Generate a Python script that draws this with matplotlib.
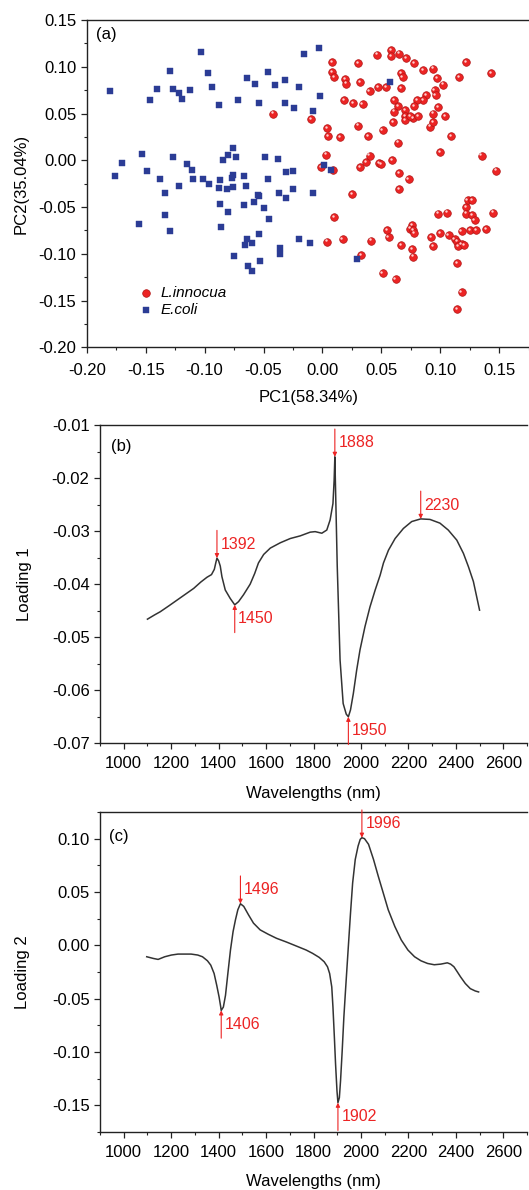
import matplotlib
matplotlib.use("Agg")
import matplotlib.pyplot as plt
from matplotlib.ticker import MultipleLocator, FormatStrFormatter
from matplotlib.transforms import ScaledTranslation

plt.rcParams['font.family'] = ['Liberation Sans', 'DejaVu Sans']

# ---- (a) PCA scores ----
lin_pc1 = [-0.042, -0.010, 0.008, 0.008, 0.010, 0.019, 0.020, 0.030, 0.032, 0.018,
           0.026, 0.034, 0.040, 0.047, 0.046, 0.058, 0.058, 0.065, 0.071, 0.078,
           0.085, 0.094, 0.097, 0.102, 0.095, 0.096, 0.088, 0.085, 0.080, 0.078,
           0.077, 0.081, 0.091, 0.094, 0.098, 0.094, 0.104, 0.067, 0.068, 0.067,
           0.054, 0.061, 0.064, 0.061, 0.070, 0.070, 0.060, 0.070, 0.074, 0.116,
           0.122, 0.143, 0.109, 0.100, 0.135, 0.147, 0.004, 0.005, 0.015, 0.030,
           0.039, 0.051, 0.064, 0.003, -0.001, 0.009, 0.032, 0.037, 0.040, 0.048,
           0.050, 0.059, 0.065, 0.073, 0.065, 0.025,
           0.010, 0.004, 0.017, 0.033, 0.041, 0.051, 0.062, 0.055, 0.056, 0.067,
           0.076, 0.074, 0.077, 0.078, 0.076, 0.077, 0.092, 0.094, 0.098, 0.106,
           0.100, 0.107, 0.112, 0.114, 0.118, 0.115, 0.120, 0.118, 0.122, 0.123,
           0.127, 0.122, 0.127, 0.129, 0.125, 0.130, 0.139, 0.145, 0.114, 0.118,
           0.114]
lin_pc2 = [0.050, 0.044, 0.105, 0.094, 0.089, 0.087, 0.082, 0.104, 0.084, 0.064,
           0.061, 0.060, 0.074, 0.078, 0.113, 0.118, 0.111, 0.114, 0.109, 0.104,
           0.096, 0.098, 0.088, 0.081, 0.075, 0.070, 0.070, 0.064, 0.064, 0.058,
           0.045, 0.047, 0.036, 0.041, 0.057, 0.050, 0.047, 0.093, 0.089, 0.077,
           0.078, 0.064, 0.058, 0.052, 0.054, 0.047, 0.041, 0.043, 0.047, 0.089,
           0.105, 0.093, 0.026, 0.009, 0.005, -0.011, 0.034, 0.026, 0.025, 0.037,
           0.026, 0.032, 0.019, 0.006, -0.007, -0.010, -0.007, -0.002, 0.005, -0.003,
           -0.004, 0.000, -0.014, -0.020, -0.031, -0.036,
           -0.061, -0.087, -0.084, -0.101, -0.086, -0.121, -0.127, -0.075, -0.082, -0.091,
           -0.069, -0.073, -0.075, -0.078, -0.095, -0.103, -0.082, -0.092, -0.057, -0.056,
           -0.078, -0.080, -0.084, -0.087, -0.090, -0.092, -0.091, -0.076, -0.050, -0.043,
           -0.043, -0.057, -0.059, -0.064, -0.075, -0.075, -0.074, -0.056, -0.110, -0.141,
           -0.159]

eco_pc1 = [-0.180, -0.146, -0.140, -0.129, -0.127, -0.122, -0.119, -0.112, -0.103, -0.097,
           -0.094, -0.088, -0.072, -0.064, -0.057, -0.054, -0.046, -0.040, -0.032, -0.032,
           -0.024, -0.020, -0.016, -0.008, -0.003, -0.002, 0.057,
           -0.176, -0.170, -0.153, -0.149, -0.138, -0.134, -0.127, -0.122, -0.115, -0.111,
           -0.110, -0.101, -0.096, -0.088, -0.087, -0.084, -0.080, -0.076, -0.073, -0.077,
           -0.076, -0.067, -0.065, -0.055, -0.049, -0.046, -0.038, -0.037, -0.031, -0.025,
           -0.025, -0.008, 0.001, 0.007, -0.081, -0.076, -0.031,
           -0.156, -0.134, -0.129, -0.087, -0.080, -0.086, -0.067, -0.058, -0.054, -0.050,
           -0.045, -0.075, -0.064, -0.066, -0.060, -0.054, -0.053, -0.063, -0.060, -0.036,
           -0.036, -0.020, -0.011, 0.029]
eco_pc2 = [0.074, 0.064, 0.076, 0.095, 0.076, 0.072, 0.066, 0.075, 0.116, 0.093,
           0.078, 0.059, 0.064, 0.088, 0.082, 0.061, 0.094, 0.081, 0.086, 0.061,
           0.056, 0.078, 0.114, 0.053, 0.120, 0.069, 0.084,
           -0.017, -0.003, 0.007, -0.011, -0.020, -0.035, 0.003, -0.027, -0.004, -0.010,
           -0.020, -0.020, -0.025, -0.030, -0.021, 0.000, 0.006, 0.013, 0.004, -0.019,
           -0.016, -0.017, -0.028, -0.037, 0.004, -0.020, 0.001, -0.035, -0.013, -0.011,
           -0.031, -0.035, -0.005, -0.010, -0.031, -0.029, -0.040,
           -0.068, -0.059, -0.076, -0.047, -0.055, -0.071, -0.048, -0.045, -0.038, -0.051,
           -0.063, -0.102, -0.084, -0.091, -0.089, -0.079, -0.108, -0.113, -0.118, -0.094,
           -0.100, -0.084, -0.088, -0.106]

# ---- (b) loading 1 ----
wl_1 = [1100, 1130, 1154, 1190, 1225, 1260, 1295, 1325, 1351, 1370, 1382, 1388, 1393,
        1400, 1407, 1414, 1428, 1449, 1468, 1484, 1505, 1533, 1552, 1568, 1590, 1618,
        1660, 1702, 1744, 1786, 1807, 1835, 1856, 1870, 1882, 1887, 1890, 1900, 1912,
        1925, 1938, 1947, 1956, 1968, 1982, 1996, 2017, 2038, 2060, 2081, 2095, 2116,
        2144, 2179, 2214, 2252, 2291, 2333, 2368, 2404, 2432, 2453, 2474, 2488, 2500]
loading_1 = [-0.0466, -0.0458, -0.0452, -0.0441, -0.0430, -0.0419, -0.0408, -0.0396,
             -0.0387, -0.0382, -0.0372, -0.0360, -0.0351, -0.0356, -0.0366, -0.0386,
             -0.0411, -0.0427, -0.0439, -0.0433, -0.0420, -0.0400, -0.0380, -0.0360,
             -0.0344, -0.0332, -0.0322, -0.0314, -0.0309, -0.0302, -0.0301, -0.0304,
             -0.0298, -0.0279, -0.0248, -0.0204, -0.0160, -0.0365, -0.0543, -0.0625,
             -0.0645, -0.0650, -0.0637, -0.0606, -0.0562, -0.0524, -0.0480, -0.0443,
             -0.0411, -0.0383, -0.0360, -0.0336, -0.0314, -0.0295, -0.0282, -0.0277,
             -0.0278, -0.0285, -0.0298, -0.0317, -0.0342, -0.0367, -0.0395, -0.0424,
             -0.0449]
peaks_1 = ["1392", "1450", "1888", "1950", "2230"]
peaks_1_x = [1393, 1468, 1890, 1947, 2252]
peaks_1_y = [-0.0351, -0.0439, -0.0160, -0.0650, -0.0277]
peaks_1_up = [True, False, True, False, True]

# ---- (c) loading 2 ----
wl_2 = [1097, 1125, 1145, 1173, 1201, 1229, 1256, 1284, 1312, 1332, 1353, 1367, 1381,
        1392, 1402, 1409, 1411, 1420, 1429, 1439, 1450, 1461, 1471, 1481, 1492, 1506,
        1526, 1547, 1575, 1609, 1644, 1686, 1727, 1769, 1796, 1824, 1845, 1859, 1868,
        1877, 1882, 1888, 1893, 1899, 1903, 1909, 1914, 1921, 1928, 1935, 1945, 1956,
        1965, 1976, 1988, 1997, 2004, 2015, 2032, 2053, 2073, 2094, 2115, 2143, 2170,
        2198, 2226, 2253, 2281, 2309, 2337, 2364, 2378, 2392, 2406, 2420, 2440, 2461,
        2482, 2496]
loading_2 = [-0.0107, -0.0123, -0.0132, -0.0107, -0.0091, -0.0082, -0.0082, -0.0082,
             -0.0091, -0.0107, -0.0145, -0.0186, -0.0264, -0.0374, -0.0484, -0.0579,
             -0.0610, -0.0579, -0.0469, -0.0264, -0.0044, 0.0129, 0.0239, 0.0333,
             0.0390, 0.0365, 0.0286, 0.0208, 0.0145, 0.0104, 0.0066, 0.0031, -0.0006,
             -0.0044, -0.0075, -0.0113, -0.0154, -0.0201, -0.0264, -0.0390, -0.0579,
             -0.0862, -0.1113, -0.1365, -0.1475, -0.1428, -0.1270, -0.0987, -0.0673,
             -0.0421, -0.0075, 0.0302, 0.0585, 0.0805, 0.0931, 0.0994, 0.1009, 0.1000,
             0.0947, 0.0805, 0.0648, 0.0491, 0.0333, 0.0176, 0.0050, -0.0044, -0.0107,
             -0.0145, -0.0170, -0.0182, -0.0176, -0.0164, -0.0176, -0.0201, -0.0248,
             -0.0296, -0.0358, -0.0406, -0.0428, -0.0437]
peaks_2 = ["1406", "1496", "1902", "1996"]
peaks_2_x = [1411, 1492, 1903, 2004]
peaks_2_y = [-0.0610, 0.0390, -0.1475, 0.1009]
peaks_2_up = [False, True, False, True]

RED = '#ec2424'
BLUE = '#2b3c95'
FS = 12

W, H = 529, 1190
fig = plt.figure(figsize=(W / 100, H / 100), dpi=100)


def box(l, t, r, b):
    # pixel box -> figure fraction
    return [l / W, 1 - b / H, (r - l) / W, (b - t) / H]


def style(ax):
    ax.spines['right'].set_visible(False)
    for s in ['left', 'bottom', 'top']:
        ax.spines[s].set_linewidth(1.0)
        ax.spines[s].set_color('#222222')
    ax.tick_params(which='both', direction='out', top=False, right=False,
                   labelsize=FS, color='#222222')
    ax.tick_params(which='major', length=4.5, width=0.9, pad=3)
    ax.tick_params(which='minor', length=2.5, width=0.8)


ax1 = fig.add_axes(box(86.7, 20, 530, 347.3))
ax2 = fig.add_axes(box(100, 425, 527, 743.3))
ax3 = fig.add_axes(box(100, 812, 527, 1132))

# (a)
ax1.scatter(lin_pc1, lin_pc2, s=30, marker='o', c=RED, edgecolors='#b01515',
            linewidths=0.5, label='L.innocua', zorder=3)
# small glint on the red balls
glint = ax1.transData + ScaledTranslation(-1.2 / 100, 1.2 / 100, fig.dpi_scale_trans)
ax1.scatter(lin_pc1, lin_pc2, s=3, marker='o', c='#ffd0d0', linewidths=0,
            transform=glint, zorder=3.5)
ax1.scatter(eco_pc1, eco_pc2, s=23, marker='s', c=BLUE, edgecolors=BLUE,
            linewidths=0.3, label='E.coli', zorder=4)
ax1.set_xlim(-0.2, 0.176)
ax1.set_ylim(-0.2, 0.15)
ax1.xaxis.set_major_locator(MultipleLocator(0.05))
ax1.xaxis.set_minor_locator(MultipleLocator(0.025))
ax1.yaxis.set_major_locator(MultipleLocator(0.05))
ax1.yaxis.set_minor_locator(MultipleLocator(0.025))
ax1.xaxis.set_major_formatter(FormatStrFormatter('%.2f'))
ax1.yaxis.set_major_formatter(FormatStrFormatter('%.2f'))
style(ax1)
ax1.tick_params(axis='x', which='major', pad=7)
ax1.set_xlabel('PC1(58.34%)', fontsize=FS)
ax1.set_ylabel('PC2(35.04%)', fontsize=FS)
ax1.xaxis.set_label_coords(0.5, -0.13)
ax1.yaxis.set_label_coords(-0.13, 0.5)
ax1.text(0.022, 0.955, '(a)', transform=ax1.transAxes, fontsize=FS,
         ha='left', va='center')
leg = ax1.legend(loc='upper left', bbox_to_anchor=(0.095, 0.21), frameon=False,
                 prop={'style': 'italic', 'size': 11}, handletextpad=0.35,
                 labelspacing=0.2, borderpad=0, handlelength=1.2)


def annotate_peaks(ax, labels, xs, ys, ups):
    for lab, x, y, up in zip(labels, xs, ys, ups):
        sgn = 1 if up else -1
        ax.annotate('', xy=(x, y), xytext=(0, 20 * sgn), textcoords='offset points',
                    arrowprops=dict(arrowstyle='-|>', color=RED, lw=0.8,
                                    mutation_scale=6, shrinkA=0, shrinkB=0),
                    annotation_clip=False)
        ax.annotate(lab, xy=(x, y), xytext=(2.5, 10 * sgn), textcoords='offset points',
                    color=RED, fontsize=11.5, ha='left', va='center')


# (b)
ax2.plot(wl_1, loading_1, color='#333333', lw=1.1)
annotate_peaks(ax2, peaks_1, peaks_1_x, peaks_1_y, peaks_1_up)
ax2.set_xlim(900, 2700)
ax2.set_ylim(-0.07, -0.01)
ax2.xaxis.set_major_locator(MultipleLocator(200))
ax2.xaxis.set_minor_locator(MultipleLocator(100))
ax2.yaxis.set_major_locator(MultipleLocator(0.01))
ax2.yaxis.set_minor_locator(MultipleLocator(0.005))
ax2.yaxis.set_major_formatter(FormatStrFormatter('%.2f'))
style(ax2)
ax2.tick_params(axis='x', which='major', pad=5)
ax2.set_xlabel('Wavelengths (nm)', fontsize=FS)
ax2.set_ylabel('Loading 1', fontsize=FS)
ax2.xaxis.set_label_coords(0.5, -0.135)
ax2.yaxis.set_label_coords(-0.16, 0.5)
ax2.text(0.026, 0.934, '(b)', transform=ax2.transAxes, fontsize=FS,
         ha='left', va='center')

# (c)
ax3.plot(wl_2, loading_2, color='#333333', lw=1.1)
annotate_peaks(ax3, peaks_2, peaks_2_x, peaks_2_y, peaks_2_up)
ax3.set_xlim(900, 2700)
ax3.set_ylim(-0.175, 0.125)
ax3.xaxis.set_major_locator(MultipleLocator(200))
ax3.xaxis.set_minor_locator(MultipleLocator(100))
ax3.yaxis.set_major_locator(MultipleLocator(0.05))
ax3.yaxis.set_minor_locator(MultipleLocator(0.025))
ax3.yaxis.set_major_formatter(FormatStrFormatter('%.2f'))
style(ax3)
ax3.tick_params(axis='x', which='major', pad=5)
ax3.set_xlabel('Wavelengths (nm)', fontsize=FS)
ax3.set_ylabel('Loading 2', fontsize=FS)
ax3.xaxis.set_label_coords(0.5, -0.13)
ax3.yaxis.set_label_coords(-0.165, 0.5)
ax3.text(0.022, 0.922, '(c)', transform=ax3.transAxes, fontsize=FS,
         ha='left', va='center')

fig.savefig('out.png', dpi=100)
